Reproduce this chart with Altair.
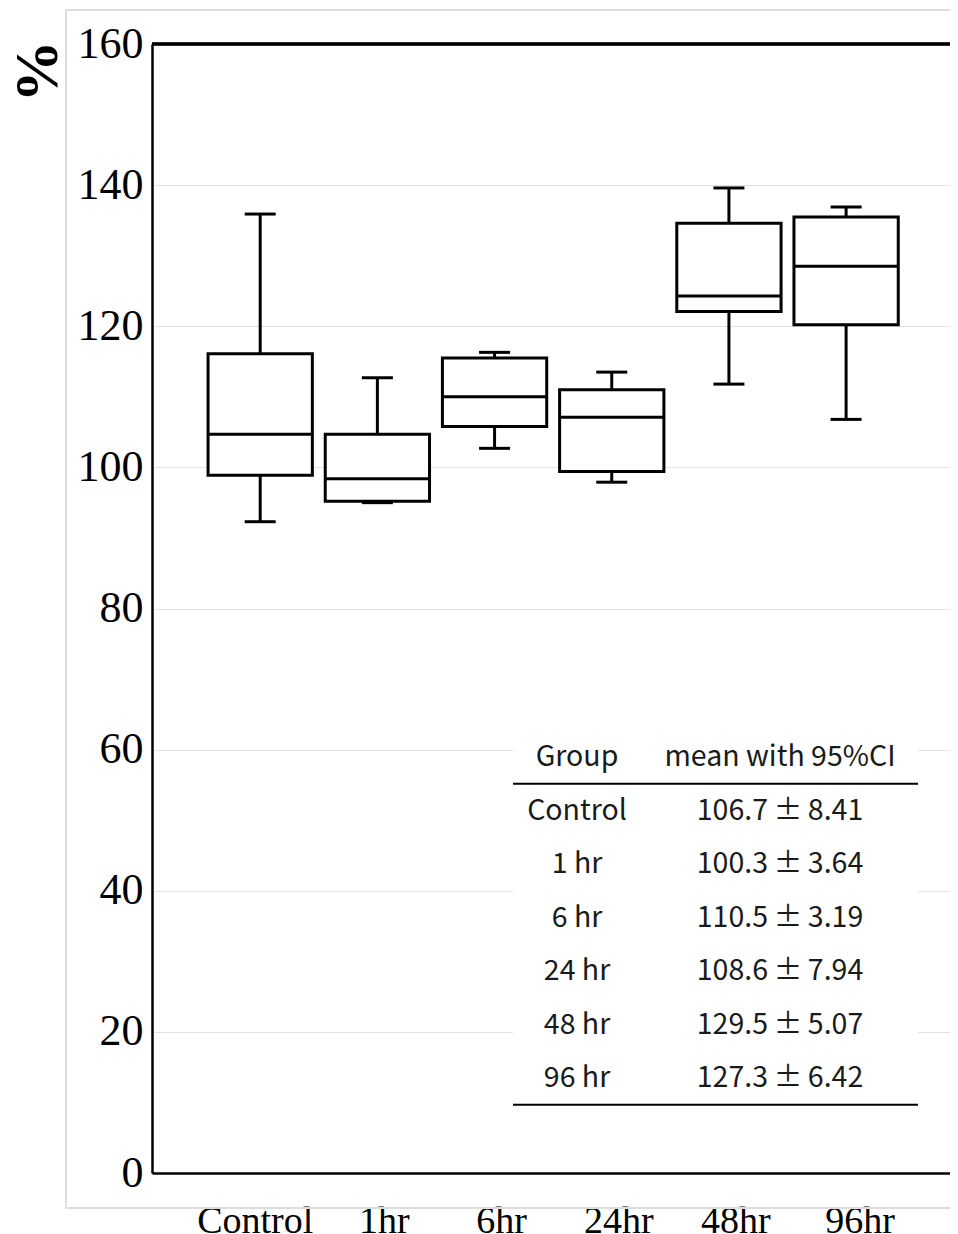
import altair as alt
import pandas as pd

# ---- data ----
groups = ["Control", "1hr", "6hr", "24hr", "48hr", "96hr"]
whisker_low = [92.3, 95.0, 102.7, 97.9, 111.8, 106.8]
q1 = [98.9, 95.2, 105.8, 99.4, 122.1, 120.2]
median = [104.7, 98.4, 110.0, 107.1, 124.3, 128.5]
q3 = [116.1, 104.7, 115.5, 111.0, 134.6, 135.5]
whisker_high = [135.9, 112.7, 116.3, 113.5, 139.6, 136.9]

y_ticks = [0, 20, 40, 60, 80, 100, 120, 140, 160]

table_header = ["Group", "mean with 95%CI"]
table_groups = ["Control", "1 hr", "6 hr", "24 hr", "48 hr", "96 hr"]
table_means = ["106.7", "100.3", "110.5", "108.6", "129.5", "127.3"]
table_ci = ["8.41", "3.64", "3.19", "7.94", "5.07", "6.42"]

# ---- tables for the library ----
box_df = pd.DataFrame({
    "group": groups, "lo": whisker_low, "q1": q1,
    "med": median, "q3": q3, "hi": whisker_high,
})
tbl_df = pd.DataFrame({
    "row": list(range(len(table_groups) + 1)),
    "g": [table_header[0]] + table_groups,
    "s": [table_header[1]] + [f"{m}\u2009\u00b1\u2009{c}" for m, c in zip(table_means, table_ci)],
})
rule_df = pd.DataFrame({"row": [0.5, len(table_groups) + 0.5]})

SERIF = "Liberation Serif"
SANS = "Noto Sans CJK JP"

x_enc = alt.X(
    "group:N", sort=groups,
    scale=alt.Scale(paddingInner=0.11, paddingOuter=0.46, align=0.52),
    axis=alt.Axis(
        title=None, labelAngle=0, labelFont=SERIF, labelFontSize=38,
        labelColor="black", labelPadding=29, ticks=False,
        labelOffset={
            "condition": [
                {"test": "datum.label == 'Control'", "value": -5},
                {"test": "datum.label == '96hr'", "value": 14},
            ],
            "value": 7,
        },
        domainColor="black", domainWidth=2.5, grid=False,
    ),
)
y_scale = alt.Scale(domain=[0, 160], nice=False)
y_axis = alt.Axis(
    values=y_ticks, title="%", titleFont=SERIF, titleFontWeight="bold",
    titleFontSize=62, titleColor="black", titleAngle=270, titleX=-115, titleY=27,
    titleAlign="center", titleBaseline="middle",
    labelFont=SERIF, labelFontSize=44, labelColor="black", labelPadding=9,
    ticks=False, domainColor="black", domainWidth=2.5,
    grid=True, gridColor="#e2e2e2", gridWidth=1.2,
)

base = alt.Chart(box_df)
whisker = base.mark_rule(color="black", strokeWidth=3, opacity=1).encode(
    x=x_enc, y=alt.Y("lo:Q", scale=y_scale, axis=y_axis), y2="hi:Q")
box = base.mark_bar(fill="white", stroke="black", strokeWidth=3, opacity=1).encode(
    x=x_enc, y=alt.Y("q1:Q", scale=y_scale, axis=y_axis), y2="q3:Q")
med = base.mark_tick(color="black", thickness=3, size=104, opacity=1).encode(
    x=x_enc, y=alt.Y("med:Q", scale=y_scale, axis=y_axis))
cap_lo = base.mark_tick(color="black", thickness=3, size=31, opacity=1).encode(
    x=x_enc, y=alt.Y("lo:Q", scale=y_scale, axis=y_axis))
cap_hi = base.mark_tick(color="black", thickness=3, size=31, opacity=1).encode(
    x=x_enc, y=alt.Y("hi:Q", scale=y_scale, axis=y_axis))
top_line = alt.Chart(box_df).mark_rule(color="black", strokeWidth=2.5).encode(
    y=alt.YDatum(160, scale=y_scale, axis=y_axis))
boxes = alt.layer(whisker, box, med, cap_lo, cap_hi, top_line)

# ---- table ----
t_scale = alt.Scale(domain=[0, 6], range=[713, 1034], nice=False, zero=False)
t_bg = alt.Chart(tbl_df).mark_rect(fill="white").encode(
    x=alt.value(361), x2=alt.value(766),
    y=alt.YDatum(-0.55, scale=t_scale, axis=None), y2=alt.Y2Datum(6.8))
t_rules = alt.Chart(rule_df).mark_rule(color="black", strokeWidth=2).encode(
    x=alt.value(361), x2=alt.value(766),
    y=alt.Y("row:Q", scale=t_scale, axis=None))
t_group = alt.Chart(tbl_df).mark_text(
    font=SANS, fontSize=28.5, color="#1a1a1a", align="center", baseline="middle"
).encode(x=alt.value(425), y=alt.Y("row:Q", scale=t_scale, axis=None), text="g:N")
t_stat = alt.Chart(tbl_df).mark_text(
    font=SANS, fontSize=28.5, color="#1a1a1a", align="center", baseline="middle"
).encode(x=alt.value(628), y=alt.Y("row:Q", scale=t_scale, axis=None), text="s:N")
table = alt.layer(t_bg, t_rules, t_group, t_stat)

# ---- outer light frame ----
frame = alt.Chart(box_df).mark_rect(fill=None, stroke="#dddddd", strokeWidth=1.5).encode(
    x=alt.value(-86), x2=alt.value(806), y=alt.value(-34), y2=alt.value(1164))

chart = alt.layer(frame, boxes, table).resolve_scale(y="independent").properties(
    width=798, height=1129,
    padding={"left": 144, "top": 36, "right": 0, "bottom": 60},
    autosize=alt.AutoSizeParams(type="none"),
).configure_view(stroke="#dddddd", strokeWidth=1).configure(background="white")

chart.save("out.html", embed_options={"renderer": "svg", "actions": False})
